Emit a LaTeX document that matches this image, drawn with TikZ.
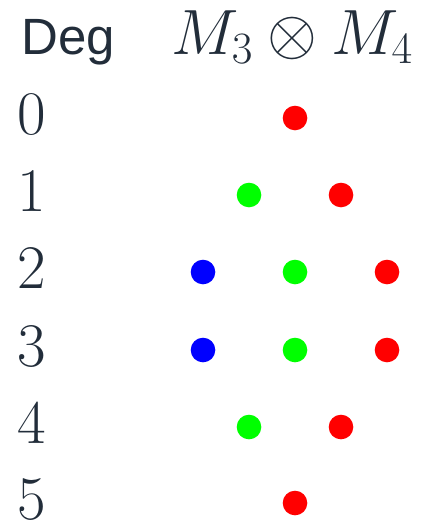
\RequirePackage{fix-cm}
\documentclass[tikz,border=0pt]{standalone}
\usepackage{fontspec}
\newfontfamily\degfont{Liberation Sans}
\definecolor{ink}{RGB}{34,45,58}
\definecolor{dotred}{RGB}{255,0,0}
\definecolor{dotgreen}{RGB}{0,255,0}
\definecolor{dotblue}{RGB}{0,0,255}
\begin{document}
\begin{tikzpicture}[x=1pt,y=-1pt,
  dot/.style={circle,fill=#1,draw=none,minimum size=24.6pt,inner sep=0pt},
  deglabel/.style={anchor=base west,inner sep=0pt,text=ink,font=\fontsize{62}{70}\selectfont},
  header/.style={anchor=base west,inner sep=0pt,text=ink}]
\useasboundingbox (0,0) rectangle (421,520);
\node[header,font=\degfont\fontsize{51}{58}\selectfont] (hdeg) at (21,54) {Deg};
\node[header,font=\fontsize{64}{72}\selectfont] (hprod) at (171,54) {$M_3\otimes M_4$};
\node[deglabel] (d0) at (17.5,134) {$0$};
\node[deglabel] (d1) at (17.5,211) {$1$};
\node[deglabel] (d2) at (17.5,288) {$2$};
\node[deglabel] (d3) at (17.5,366) {$3$};
\node[deglabel] (d4) at (17.5,443) {$4$};
\node[deglabel] (d5) at (17.5,519) {$5$};
% degree 0
\node[dot=dotred] (r0a) at (295,118) {};
% degree 1
\node[dot=dotgreen] (g1a) at (249,195) {};
\node[dot=dotred] (r1a) at (341,195) {};
% degree 2
\node[dot=dotblue] (b2a) at (203,272) {};
\node[dot=dotgreen] (g2a) at (295,272) {};
\node[dot=dotred] (r2a) at (387,272) {};
% degree 3
\node[dot=dotblue] (b3a) at (203,350) {};
\node[dot=dotgreen] (g3a) at (295,350) {};
\node[dot=dotred] (r3a) at (387,350) {};
% degree 4
\node[dot=dotgreen] (g4a) at (249,427) {};
\node[dot=dotred] (r4a) at (341,427) {};
% degree 5
\node[dot=dotred] (r5a) at (295,503) {};
\end{tikzpicture}
\end{document}
